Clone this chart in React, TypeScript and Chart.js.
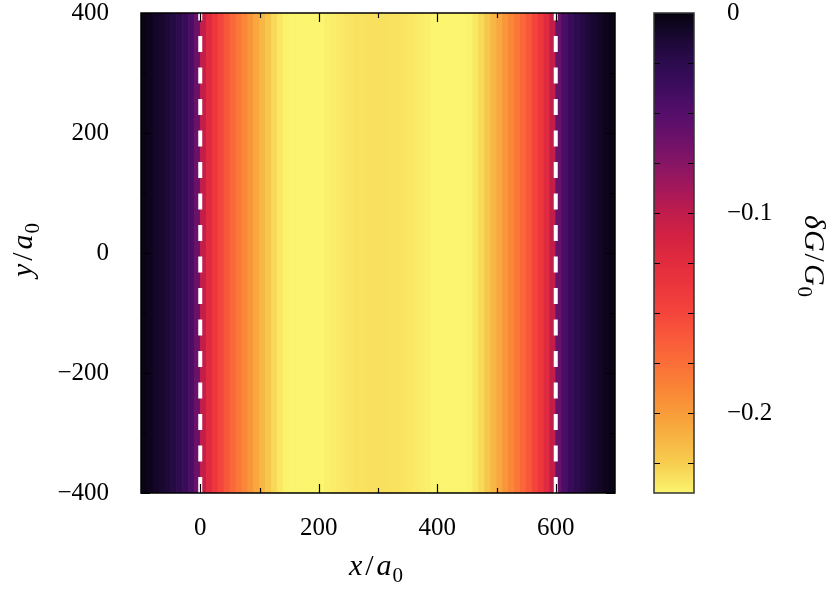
import React, { useEffect, useRef } from "react";
import { Chart, registerables } from "chart.js";

Chart.register(...registerables);

// ---------- data ----------
const xCenters = [
  -95, -85, -75, -65, -55, -45, -35, -25, -15, -5,
  5, 15, 25, 35, 45, 55, 65, 75, 85, 95,
  105, 115, 125, 135, 145, 155, 165, 175, 185, 195,
  205, 215, 225, 235, 245, 255, 265, 275, 285, 295,
  305, 315, 325, 335, 345, 355, 365, 375, 385, 395,
  405, 415, 425, 435, 445, 455, 465, 475, 485, 495,
  505, 515, 525, 535, 545, 555, 565, 575, 585, 595,
  605, 615, 625, 635, 645, 655, 665, 675, 685, 695,
];
const dG = [
  -0.003, -0.005, -0.008, -0.011, -0.015, -0.02, -0.026, -0.034, -0.045, -0.062,
  -0.102, -0.122, -0.137, -0.15, -0.161, -0.171, -0.18, -0.189, -0.197, -0.206,
  -0.214, -0.222, -0.229, -0.235, -0.239, -0.241, -0.242, -0.242, -0.242, -0.241,
  -0.24, -0.238, -0.237, -0.236, -0.235, -0.234, -0.233, -0.233, -0.232, -0.232,
  -0.232, -0.232, -0.233, -0.233, -0.234, -0.235, -0.236, -0.237, -0.238, -0.24,
  -0.241, -0.242, -0.242, -0.242, -0.241, -0.239, -0.235, -0.229, -0.222, -0.214,
  -0.206, -0.197, -0.189, -0.18, -0.171, -0.161, -0.15, -0.137, -0.122, -0.102,
  -0.062, -0.045, -0.034, -0.026, -0.02, -0.015, -0.011, -0.008, -0.005, -0.003,
];
const yRange = [-400, 400];
const xRange = [-100, 700];
const dashLinesX = [0, 600];
const xTickValues = [0, 200, 400, 600];
const xMinorTicks = [100, 300, 500];
const yTickValues = [-400, -200, 0, 200, 400];
const yMinorTicks = [-300, -100, 100, 300];
const cbRange = [-0.24, 0];
const cbTickValues = [-0.2, -0.1, 0];
const cbMinorTicks = [-0.025, -0.05, -0.075, -0.125, -0.15, -0.175, -0.225];

// ---------- palette (t = 0 at top of colour bar, 1 at bottom) ----------
const paletteStops: [number, string][] = [
  [0.0, "#06030e"],
  [0.052, "#1a0833"],
  [0.104, "#2c0b4e"],
  [0.156, "#3e0c5f"],
  [0.208, "#540f6b"],
  [0.26, "#6b116a"],
  [0.3125, "#861565"],
  [0.365, "#a3185a"],
  [0.417, "#c01c4c"],
  [0.469, "#d42242"],
  [0.521, "#e22c3e"],
  [0.573, "#ed373c"],
  [0.625, "#f4453c"],
  [0.677, "#f95a3a"],
  [0.729, "#fb6e38"],
  [0.781, "#fa8436"],
  [0.833, "#f89c3a"],
  [0.885, "#f7b443"],
  [0.9375, "#f7cd4f"],
  [1.0, "#fbf56f"],
];

function hexToRgb(h: string) {
  return [
    parseInt(h.slice(1, 3), 16),
    parseInt(h.slice(3, 5), 16),
    parseInt(h.slice(5, 7), 16),
  ];
}

function colorFor(v: number) {
  const t = Math.min(1, Math.max(0, (v - cbRange[1]) / (cbRange[0] - cbRange[1])));
  for (let i = 1; i < paletteStops.length; i++) {
    const [t1, c1] = paletteStops[i];
    if (t <= t1) {
      const [t0, c0] = paletteStops[i - 1];
      const f = (t - t0) / (t1 - t0);
      const a = hexToRgb(c0);
      const b = hexToRgb(c1);
      const r = a.map((q, k) => Math.round(q + (b[k] - q) * f));
      return `rgb(${r[0]},${r[1]},${r[2]})`;
    }
  }
  return paletteStops[paletteStops.length - 1][1];
}

const fmt = (v: number) => (v < 0 ? "\u2212" + String(Math.abs(v)) : String(v));

const FONT = "'Liberation Serif', 'DejaVu Serif', serif";
const tickFont = { family: FONT, size: 25, lineHeight: 1 };
const TITLE_SIZE = 30;

type Part = { t: string; it?: boolean; sub?: boolean; gap?: number };
const xTitle: Part[] = [
  { t: "x", it: true, gap: 3 },
  { t: "/", gap: 3 },
  { t: "a", it: true, gap: 1 },
  { t: "0", sub: true },
];
const yTitle: Part[] = [
  { t: "y", it: true, gap: 3 },
  { t: "/", gap: 3 },
  { t: "a", it: true, gap: 1 },
  { t: "0", sub: true },
];
const cbTitle: Part[] = [
  { t: "\u03b4", it: true, gap: 1 },
  { t: "G", it: true, gap: 2 },
  { t: "/", gap: 2 },
  { t: "G", it: true, gap: 1 },
  { t: "0", sub: true },
];

function drawMath(ctx: CanvasRenderingContext2D, parts: Part[], bx: number, by: number, rot: number) {
  ctx.save();
  ctx.translate(bx, by);
  ctx.rotate(rot);
  ctx.fillStyle = "#000";
  ctx.textBaseline = "alphabetic";
  ctx.textAlign = "left";
  const fontOf = (p: Part) =>
    `${p.it ? "italic " : ""}${p.sub ? Math.round(TITLE_SIZE * 0.7) : TITLE_SIZE}px ${FONT}`;
  let w = 0;
  const widths = parts.map((p) => {
    ctx.font = fontOf(p);
    const m = ctx.measureText(p.t).width + (p.gap || 0);
    w += m;
    return m;
  });
  let x = -w / 2;
  parts.forEach((p, i) => {
    ctx.font = fontOf(p);
    ctx.fillText(p.t, x, p.sub ? TITLE_SIZE * 0.22 : 0);
    x += widths[i];
  });
  ctx.restore();
}

const noEdgePadding = (s: any) => {
  s.paddingTop = 0;
  s.paddingBottom = 0;
  s.paddingLeft = 0;
  s.paddingRight = 0;
};

const mainFrame = {
  id: "mainFrame",
  afterDatasetsDraw(chart: any) {
    const { ctx, chartArea } = chart;
    const { left, right, top, bottom } = chartArea;
    const xs = chart.scales.x;
    const ys = chart.scales.y;
    ctx.save();
    ctx.strokeStyle = "#000";
    ctx.lineWidth = 1.2;
    ctx.beginPath();
    const tickX = (v: number, len: number) => {
      const p = Math.round(xs.getPixelForValue(v)) + 0.5;
      ctx.moveTo(p, bottom);
      ctx.lineTo(p, bottom - len);
      ctx.moveTo(p, top);
      ctx.lineTo(p, top + len);
    };
    const tickY = (v: number, len: number) => {
      const p = Math.round(ys.getPixelForValue(v)) + 0.5;
      ctx.moveTo(left, p);
      ctx.lineTo(left + len, p);
      ctx.moveTo(right, p);
      ctx.lineTo(right - len, p);
    };
    xTickValues.forEach((v) => tickX(v, 9));
    xMinorTicks.forEach((v) => tickX(v, 5));
    yTickValues.forEach((v) => tickY(v, 9));
    yMinorTicks.forEach((v) => tickY(v, 5));
    ctx.stroke();
    ctx.lineWidth = 1.5;
    ctx.strokeRect(left, top, right - left, bottom - top);
    ctx.restore();
  },
  afterDraw(chart: any) {
    const { ctx, chartArea } = chart;
    const cx = (chartArea.left + chartArea.right) / 2;
    const cy = (chartArea.top + chartArea.bottom) / 2;
    drawMath(ctx, xTitle, cx - 2, 575, 0);
    drawMath(ctx, yTitle, 32, cy - 3, -Math.PI / 2);
  },
};

const cbFrame = {
  id: "cbFrame",
  afterDatasetsDraw(chart: any) {
    const { ctx, chartArea } = chart;
    const { left, right, top, bottom } = chartArea;
    const ys = chart.scales.y;
    ctx.save();
    ctx.strokeStyle = "#000";
    ctx.lineWidth = 1.2;
    ctx.beginPath();
    [...cbTickValues, ...cbMinorTicks].forEach((v) => {
      const p = Math.round(ys.getPixelForValue(v)) + 0.5;
      ctx.moveTo(left, p);
      ctx.lineTo(left + 6, p);
      ctx.moveTo(right, p);
      ctx.lineTo(right - 6, p);
    });
    ctx.stroke();
    ctx.strokeStyle = "#333";
    ctx.lineWidth = 1.5;
    ctx.strokeRect(left, top, right - left, bottom - top);
    ctx.restore();
  },
  afterDraw(chart: any) {
    const { ctx, chartArea } = chart;
    const cy = (chartArea.top + chartArea.bottom) / 2;
    drawMath(ctx, cbTitle, 165, cy + 3, Math.PI / 2);
  },
};

export default function App() {
  const mainRef = useRef<HTMLCanvasElement>(null);
  const cbRef = useRef<HTMLCanvasElement>(null);

  useEffect(() => {
    const main = new Chart(mainRef.current as HTMLCanvasElement, {
      type: "bar",
      data: {
        datasets: [
          ...dashLinesX.map((x) => ({
            type: "line" as const,
            data: [
              { x, y: yRange[0] },
              { x, y: yRange[1] },
            ],
            borderColor: "#ffffff",
            borderWidth: 4,
            borderDash: [16, 15.5],
            pointRadius: 0,
            fill: false,
            order: 0,
          })),
          {
            type: "bar" as const,
            data: xCenters.map((x) => ({ x, y: [yRange[0], yRange[1]] })),
            backgroundColor: dG.map(colorFor),
            borderWidth: 0,
            barPercentage: 1,
            categoryPercentage: 1,
            order: 1,
          },
        ] as any,
      },
      options: {
        animation: false,
        responsive: false,
        maintainAspectRatio: false,
        events: [],
        layout: { padding: { left: 0, right: 25, top: 13, bottom: 0 } },
        plugins: { legend: { display: false }, tooltip: { enabled: false } },
        scales: {
          x: {
            type: "linear",
            min: xRange[0],
            max: xRange[1],
            offset: false,
            grid: { display: false },
            border: { display: false },
            afterBuildTicks: (s: any) => {
              s.ticks = xTickValues.map((v) => ({ value: v }));
            },
            afterFit: (s: any) => {
              s.height = 96;
              noEdgePadding(s);
            },
            ticks: {
              autoSkip: false,
              maxRotation: 0,
              padding: 15,
              color: "#000",
              font: tickFont,
              callback: (v: any) => fmt(Number(v)),
            },
            title: { display: false, text: "x/a\u2080" },
          },
          y: {
            type: "linear",
            min: yRange[0],
            max: yRange[1],
            grid: { display: false },
            border: { display: false },
            afterBuildTicks: (s: any) => {
              s.ticks = yTickValues.map((v) => ({ value: v }));
            },
            afterFit: (s: any) => {
              s.width = 141;
              noEdgePadding(s);
            },
            ticks: {
              autoSkip: false,
              padding: 24,
              color: "#000",
              font: tickFont,
              callback: (v: any) => fmt(Number(v)),
            },
            title: { display: false, text: "y/a\u2080" },
          },
        },
      } as any,
      plugins: [mainFrame],
    });

    const cb = new Chart(cbRef.current as HTMLCanvasElement, {
      type: "bar",
      data: {
        labels: ["\u03b4G/G\u2080"],
        datasets: [
          {
            data: [[cbRange[0], cbRange[1]]],
            backgroundColor: (c: any) => {
              const chart = c.chart;
              const ys = chart.scales && chart.scales.y;
              if (!chart.chartArea || !ys) return paletteStops[10][1];
              const g = chart.ctx.createLinearGradient(
                0,
                ys.getPixelForValue(cbRange[1]),
                0,
                ys.getPixelForValue(cbRange[0])
              );
              paletteStops.forEach(([t, col]) => g.addColorStop(t, col));
              return g;
            },
            borderWidth: 0,
            barPercentage: 1,
            categoryPercentage: 1,
          },
        ],
      },
      options: {
        animation: false,
        responsive: false,
        maintainAspectRatio: false,
        events: [],
        layout: { padding: { left: 14, right: 0, top: 13, bottom: 96 } },
        plugins: { legend: { display: false }, tooltip: { enabled: false } },
        scales: {
          x: { display: false },
          y: {
            type: "linear",
            position: "right",
            min: cbRange[0],
            max: cbRange[1],
            grid: { display: false },
            border: { display: false },
            afterBuildTicks: (s: any) => {
              s.ticks = cbTickValues.map((v) => ({ value: v }));
            },
            afterFit: (s: any) => {
              s.width = 135;
              noEdgePadding(s);
            },
            ticks: {
              autoSkip: false,
              padding: 25,
              color: "#000",
              font: tickFont,
              callback: (v: any) => fmt(Number(v)),
            },
            title: { display: false, text: "\u03b4G/G\u2080" },
          },
        },
      } as any,
      plugins: [cbFrame],
    });

    return () => {
      main.destroy();
      cb.destroy();
    };
  }, []);

  return (
    <div
      style={{
        position: "absolute",
        left: 0,
        top: 0,
        width: 829,
        height: 589,
        background: "#fff",
      }}
    >
      <canvas
        ref={mainRef}
        width={640}
        height={589}
        style={{ position: "absolute", left: 0, top: 0, width: 640, height: 589 }}
      />
      <canvas
        ref={cbRef}
        width={189}
        height={589}
        style={{ position: "absolute", left: 640, top: 0, width: 189, height: 589 }}
      />
    </div>
  );
}
